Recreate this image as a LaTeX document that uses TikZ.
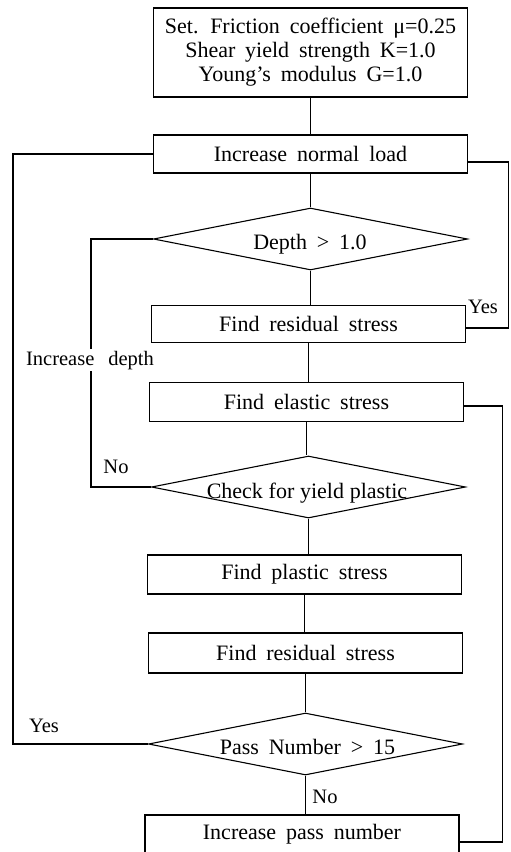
\documentclass[tikz,border=0pt]{standalone}
\usepackage{fontspec}
\setmainfont{Liberation Serif}
\usetikzlibrary{shapes.geometric,calc}
\begin{document}
\begin{tikzpicture}[x=1pt,y=-1pt,
  line width=1.1pt,
  txt/.style={font=\fontsize{22}{24}\selectfont, inner sep=0pt, execute at begin node={\spaceskip=0.45em\relax}},
  tighttxt/.style={font=\fontsize{22}{24}\selectfont, inner sep=0pt, execute at begin node={\spaceskip=0.26em\relax}},
  box/.style={txt, draw, rectangle, minimum width=314pt, minimum height=39pt},
  dia/.style={draw, diamond, minimum width=314pt, minimum height=62pt, inner sep=0pt},
  lbl/.style={font=\fontsize{20.5}{24}\selectfont, inner sep=2pt, anchor=base}
]
\clip (0,0) rectangle (511,852);
\fill[white] (0,0) rectangle (511,852);

% nodes
\node[box, minimum height=89pt, align=center] (top) at (310.5,52.5)
  {Set. Friction coefficient μ=0.25\\Shear yield strength K=1.0\\Young's modulus G=1.0};
\node[box, minimum height=38pt] (load) at (310.5,154) {Increase normal load};
\node[dia] (d1) at (310.5,239) {};
\node[txt, anchor=base] (d1t) at (310,249) {Depth > 1.0};
\node[box, minimum height=37pt] (res1) at (308.5,324) {Find residual stress};
\node[box] (elas) at (306.5,402) {Find elastic stress};
\node[dia] (d2) at (308.5,487) {};
\node[tighttxt, anchor=base] (d2t) at (307,498) {Check for yield plastic};
\node[box] (plas) at (304.5,574.5) {Find plastic stress};
\node[box, minimum height=40pt] (res2) at (305.5,653) {Find residual stress};
\node[dia] (d3) at (305.5,744) {};
\node[txt, anchor=base] (d3t) at (307.5,754) {Pass Number > 15};
\node[box, minimum height=38pt] (pass) at (302,834) {Increase pass number};

% main flow
\draw (top.south) -- (top.south |- load.north);
\draw (load.south) -- (load.south |- d1.north);
\draw (d1.south) -- (d1.south |- res1.north);
\draw (res1.south) -- (res1.south |- elas.north);
\draw (elas.south) -- (elas.south |- d2.north);
\draw (d2.south) -- (d2.south |- plas.north);
\draw (plas.south) -- (plas.south |- res2.north);
\draw (res2.south) -- (res2.south |- d3.north);
\draw (d3.south) -- (d3.south |- pass.north);

% loops
\draw (load.west) -- ++(-140,0) coordinate (lc) |- (d3.west);
\draw ([yshift=-8pt]load.east) -- ++(40,0) coordinate (rc) |- ([yshift=-4pt]res1.east);
\draw (d1.west) -- ++(-62,0) coordinate (dc) |- (d2.west);
\draw ([yshift=-4pt]elas.east) -- ++(38,0) coordinate (ec) |- ([yshift=-8pt]pass.east);

% labels
\node[lbl, fill=white] (incd) at (90,365) {Increase\hspace{14pt}depth};
\node[lbl] (yes1) at (483,313) {Yes};
\node[lbl] (no1) at (116,473) {No};
\node[lbl] (yes2) at (44,732) {Yes};
\node[lbl] (no2) at (325,803) {No};
\end{tikzpicture}
\end{document}
